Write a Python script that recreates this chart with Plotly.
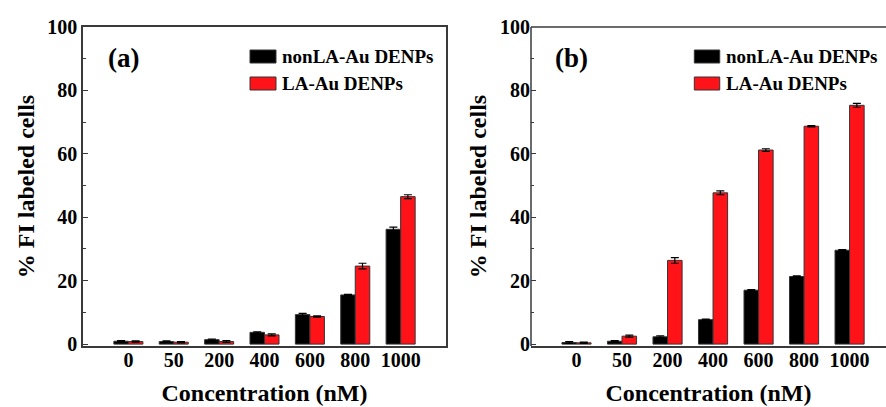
import plotly.graph_objects as go

categories = ["0", "50", "200", "400", "600", "800", "1000"]

a_nonla = [0.9, 0.8, 1.4, 3.7, 9.3, 15.5, 36.2]
a_nonla_err = [0.2, 0.2, 0.2, 0.2, 0.4, 0.2, 0.7]
a_la = [0.8, 0.6, 0.8, 2.9, 8.7, 24.6, 46.5]
a_la_err = [0.2, 0.2, 0.3, 0.3, 0.2, 0.9, 0.6]

b_nonla = [0.5, 0.9, 2.3, 7.7, 17.0, 21.3, 29.6]
b_nonla_err = [0.3, 0.2, 0.3, 0.2, 0.2, 0.2, 0.2]
b_la = [0.4, 2.5, 26.4, 47.7, 61.2, 68.7, 75.3]
b_la_err = [0.2, 0.3, 0.9, 0.6, 0.4, 0.2, 0.6]

series_names = ["nonLA-Au DENPs", "LA-Au DENPs"]
colors = ["#000000", "#FF1318"]
panel_labels = ["(a)", "(b)"]

FONT = "Liberation Serif, Times New Roman, serif"
FRAME = "#3a3a3a"

fig = go.Figure()

def add_bars(xa, ya, vals, errs, name, color):
    fig.add_trace(go.Bar(
        x=categories, y=vals, name=name, xaxis=xa, yaxis=ya,
        marker=dict(color=color, line=dict(color="#333333", width=1)),
        error_y=dict(type="data", array=errs, visible=True, color="#000000",
                     thickness=1.2, width=4),
        showlegend=False,
    ))

add_bars("x", "y", a_nonla, a_nonla_err, series_names[0], colors[0])
add_bars("x", "y", a_la, a_la_err, series_names[1], colors[1])
add_bars("x2", "y2", b_nonla, b_nonla_err, series_names[0], colors[0])
add_bars("x2", "y2", b_la, b_la_err, series_names[1], colors[1])

W, H = 886, 407
ml, mr, mt, mb = 83, 0, 27, 61
pw = W - ml - mr
dom_a = [0, 363 / pw]
dom_b = [(531 - ml) / pw, 1.0]

tickfont = dict(family=FONT, size=20, color="#000000", weight="bold")

def xaxis(dom, rng, mirror):
    return dict(domain=dom, type="category", range=rng, showline=True,
                linecolor=FRAME, linewidth=1.5, mirror=mirror, ticks="",
                showgrid=False, zeroline=False, tickfont=tickfont,
                ticklabelstandoff=-5,
                title=dict(text="Concentration (nM)",
                           font=dict(family=FONT, size=24, color="#000000", weight="bold"),
                           standoff=14))

def yaxis(anchor, mirror, showline=True):
    return dict(anchor=anchor, range=[-0.6, 100], showline=showline, linecolor=FRAME,
                linewidth=1.5, mirror=mirror, ticks="inside", ticklen=5,
                tickwidth=1, tickcolor=FRAME, dtick=20, tick0=0,
                minor=dict(ticks="inside", ticklen=3, dtick=10, tickcolor=FRAME),
                showgrid=False, zeroline=False, tickfont=tickfont,
                title=dict(text="% FI labeled cells",
                           font=dict(family=FONT, size=24, color="#000000", weight="bold"),
                           standoff=6))

fig.update_layout(
    width=W, height=H,
    margin=dict(l=ml, r=mr, t=mt, b=mb),
    paper_bgcolor="white", plot_bgcolor="white",
    barmode="group", bargap=0.36, bargroupgap=0,
    xaxis=xaxis(dom_a, [-1.0, 7.0], True),
    yaxis=yaxis("x", True),
    xaxis2=xaxis(dom_b, [-1.0, 6.8], False),
    yaxis2=yaxis("x2", False, showline=False),
)
fig.update_layout(xaxis2=dict(anchor="y2"), yaxis2=dict(anchor="x2"))

# frame for panel (b): top and left lines (right side runs off the page)
shapes = [dict(type="line", xref="x2 domain", yref="y2 domain", x0=0, x1=1, y0=1, y1=1,
               line=dict(color=FRAME, width=1.5)),
          dict(type="line", xref="x2 domain", yref="y2 domain", x0=0, x1=0, y0=0, y1=1,
               line=dict(color=FRAME, width=1.5))]
annotations = []
for i, (xref, yref) in enumerate([("x domain", "y domain"), ("x2 domain", "y2 domain")]):
    left_px = 83 if i == 0 else 531
    def fx(px):
        return (px - left_px) / 363.0
    def fy(py):
        return (346 - py) / (346 - 27)
    annotations.append(dict(text=panel_labels[i], xref=xref, yref=yref,
                            x=fx(106 if i == 0 else 554), y=fy(58), xanchor="left",
                            yanchor="middle", showarrow=False,
                            font=dict(family=FONT, size=27, color="#000000", weight="bold")))
    sx = 250 if i == 0 else 698
    for j, (name, col) in enumerate(zip(series_names, colors)):
        y0 = 50 + 27 * j
        shapes.append(dict(type="rect", xref=xref, yref=yref,
                           x0=fx(sx), x1=fx(sx + 26), y0=fy(y0 + 13), y1=fy(y0),
                           fillcolor=col, line=dict(color="#333333", width=1)))
        annotations.append(dict(text=name, xref=xref, yref=yref,
                                x=fx(sx + 30), y=fy(y0 + 6.5), xanchor="left",
                                yanchor="middle", showarrow=False,
                                font=dict(family=FONT, size=19, color="#000000", weight="bold")))

fig.update_layout(shapes=shapes, annotations=annotations)

fig.write_html("out.html", config={"displayModeBar": False},
               post_script="document.body.style.margin='0';")
